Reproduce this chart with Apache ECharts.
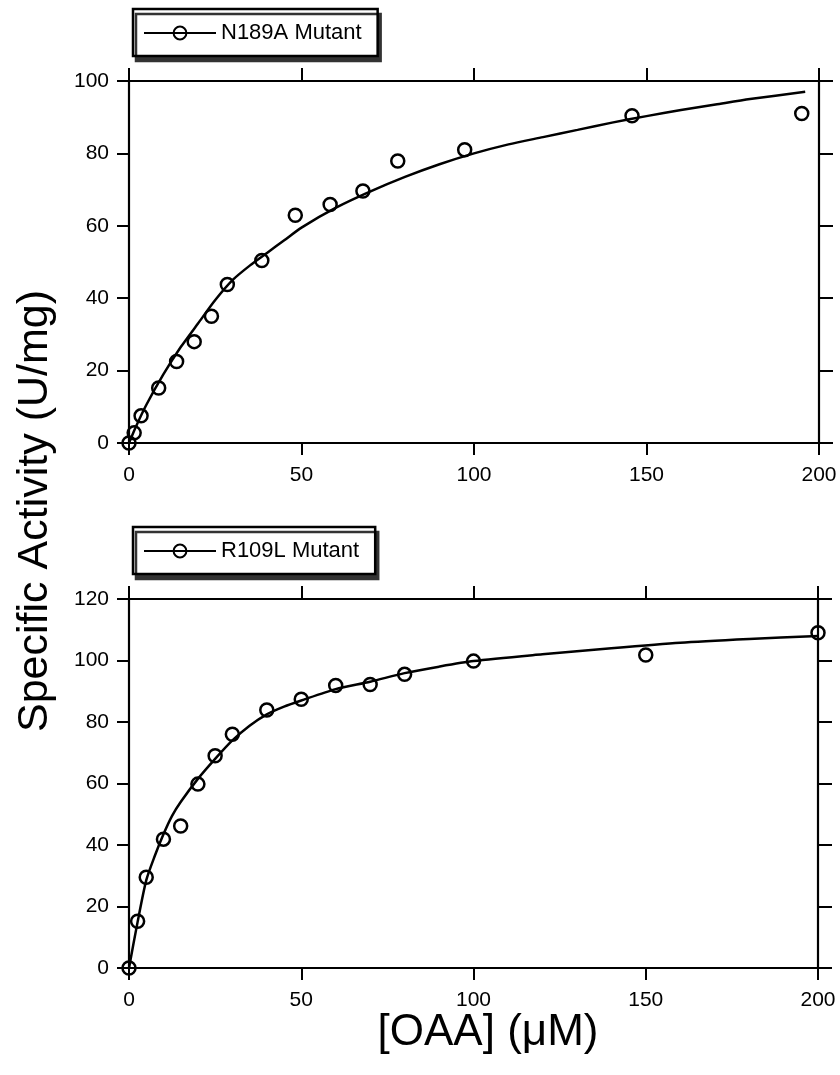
<!DOCTYPE html>
<html>
<head>
<meta charset="utf-8">
<script src="https://cdn.jsdelivr.net/npm/echarts@6/dist/echarts.min.js"></script>
<style>
html,body{margin:0;padding:0;background:#fff;}
#c{width:840px;height:1075px;}
</style>
</head>
<body>
<div id="c"></div>
<script>
// ---- data ----
var topName = 'N189A Mutant';
var topX = [0, 1.5, 3.5, 8.6, 13.8, 18.9, 23.9, 28.5, 38.5, 48.2, 58.3, 67.8, 77.9, 97.3, 145.8, 195];
var topY = [0, 2.8, 7.5, 15.2, 22.5, 28, 35, 43.8, 50.4, 62.9, 65.9, 69.6, 77.9, 81, 90.4, 91];
var topFitX = [0, 2, 5, 10, 15, 20, 25, 30, 35, 40, 45, 50, 60, 70, 80, 90, 100, 110, 120, 130, 140, 150, 160, 170, 180, 196];
var topFitY = [0, 4.5, 10.5, 19, 26.5, 33, 39.5, 45, 49, 52.5, 56, 59.5, 65, 69.5, 73.5, 77, 80, 82.5, 84.5, 86.5, 88.5, 90.3, 92, 93.5, 95, 97];

var botName = 'R109L Mutant';
var botX = [0, 2.5, 5, 10, 15, 20, 25, 30, 40, 50, 60, 70, 80, 100, 150, 200];
var botY = [0, 15.2, 29.5, 41.9, 46.2, 59.8, 69, 76, 83.9, 87.4, 91.9, 92.2, 95.5, 99.8, 101.8, 109];
var botFitX = [0, 2.5, 5, 7.5, 10, 12.5, 15, 20, 25, 30, 35, 40, 45, 50, 60, 70, 80, 90, 100, 120, 140, 160, 180, 200];
var botFitY = [0, 15, 28.5, 36.5, 43.5, 49.5, 54, 61.5, 68, 74, 78.8, 82.5, 85, 87, 90.7, 93.1, 95.9, 98, 99.8, 102, 104, 105.8, 107, 108];

var xTicks = [0, 50, 100, 150, 200];
var yTitle = 'Specific Activity (U/mg)';
var xTitle = '[OAA] (\u03bcM)';

function zip(a, b) { return a.map(function (v, i) { return [v, b[i]]; }); }

var FONT = 'Liberation Sans, Arial, sans-serif';
var axisLine = { show: true, onZero: false, lineStyle: { color: '#000', width: 2.2 } };

function xAxisMain(gi) {
  return {
    type: 'value', gridIndex: gi, min: 0, max: 200, interval: 50, position: 'bottom',
    axisLine: axisLine, axisTick: { show: true, length: 12, lineStyle: { color: '#000', width: 2 } },
    axisLabel: { color: '#000', fontSize: 21, fontFamily: FONT, margin: 22 },
    splitLine: { show: false }
  };
}
function xAxisTop(gi) {
  return {
    type: 'value', gridIndex: gi, min: 0, max: 200, interval: 50, position: 'top',
    axisLine: axisLine, axisTick: { show: true, length: 13, lineStyle: { color: '#000', width: 2 } },
    axisLabel: { show: false }, splitLine: { show: false }
  };
}
function yAxisMain(gi, max) {
  return {
    type: 'value', gridIndex: gi, min: 0, max: max, interval: 20, position: 'left',
    axisLine: axisLine, axisTick: { show: true, length: 12, lineStyle: { color: '#000', width: 2 } },
    axisLabel: { color: '#000', fontSize: 21, fontFamily: FONT, margin: 20 },
    splitLine: { show: false }
  };
}
function yAxisRight(gi, max) {
  return {
    type: 'value', gridIndex: gi, min: 0, max: max, interval: 20, position: 'right',
    axisLine: axisLine, axisTick: { show: true, length: 14, lineStyle: { color: '#000', width: 2 } },
    axisLabel: { show: false }, splitLine: { show: false }
  };
}
function legendFor(name, top) {
  return {
    data: [name], left: 133, top: top, orient: 'horizontal',
    itemWidth: 72, itemHeight: 16,
    padding: [13, 16, 12, 10],
    backgroundColor: '#fff', borderColor: '#000', borderWidth: 2.5, borderRadius: 0,
    shadowColor: '#333', shadowBlur: 0, shadowOffsetX: 3, shadowOffsetY: 5,
    textStyle: { color: '#000', fontSize: 22, fontFamily: FONT },
    itemStyle: { color: 'rgba(255,255,255,0)', borderColor: '#000', borderWidth: 2 },
    lineStyle: { color: '#000', width: 2 },
    selectedMode: false
  };
}
function fitSeries(name, xi, yi, data) {
  return {
    name: name, type: 'line', xAxisIndex: xi, yAxisIndex: yi, data: data,
    smooth: 0.25, symbol: 'circle', symbolSize: 12, showSymbol: false,
    lineStyle: { color: '#000', width: 2.5 },
    itemStyle: { color: 'rgba(255,255,255,0)', borderColor: '#000', borderWidth: 2 },
    silent: true, z: 2
  };
}
function pointSeries(xi, yi, data) {
  return {
    name: 'pts' + xi, type: 'scatter', xAxisIndex: xi, yAxisIndex: yi, data: data,
    symbol: 'circle', symbolSize: 13,
    itemStyle: { color: 'rgba(255,255,255,0)', borderColor: '#000', borderWidth: 2.5, opacity: 1 },
    silent: true, z: 3
  };
}

var chart = echarts.init(document.getElementById('c'), null, { renderer: 'canvas' });
chart.setOption({
  animation: false,
  backgroundColor: '#fff',
  grid: [
    { left: 129, top: 81, width: 690, height: 362, outerBoundsMode: 'none', containLabel: false },
    { left: 129, top: 599, width: 689, height: 369, outerBoundsMode: 'none', containLabel: false }
  ],
  xAxis: [xAxisMain(0), xAxisTop(0), xAxisMain(1), xAxisTop(1)],
  yAxis: [yAxisMain(0, 100), yAxisRight(0, 100), yAxisMain(1, 120), yAxisRight(1, 120)],
  legend: [legendFor(topName, 9), legendFor(botName, 527)],
  series: [
    fitSeries(topName, 0, 0, zip(topFitX, topFitY)),
    pointSeries(0, 0, zip(topX, topY)),
    fitSeries(botName, 2, 2, zip(botFitX, botFitY)),
    pointSeries(2, 2, zip(botX, botY))
  ],
  graphic: [
    { type: 'text', x: 35, y: 511, rotation: Math.PI / 2,
      style: { text: yTitle, font: '43px ' + FONT, fill: '#000', textAlign: 'center', textVerticalAlign: 'middle' } },
    { type: 'text', x: 488, y: 1033,
      style: { text: xTitle, font: '44px ' + FONT, fill: '#000', textAlign: 'center', textVerticalAlign: 'middle' } }
  ]
});
</script>
</body>
</html>
